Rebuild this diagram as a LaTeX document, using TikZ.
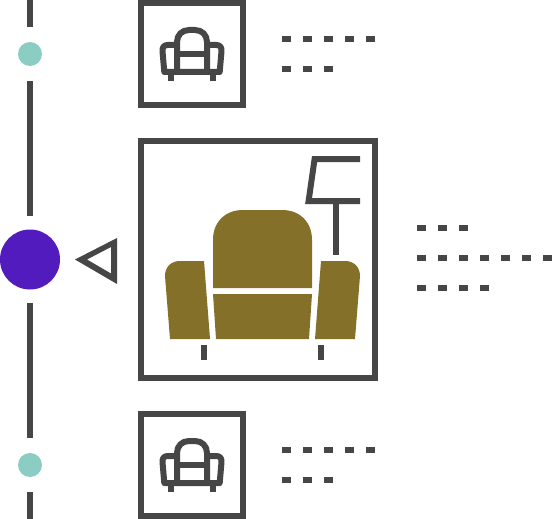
\documentclass[tikz,border=0pt]{standalone}
\definecolor{ink}{RGB}{70,70,70}
\definecolor{olive}{RGB}{133,112,41}
\definecolor{violetdot}{RGB}{82,27,190}
\definecolor{tealdot}{RGB}{139,204,195}
\tikzset{
  x=1pt,y=-1pt,
  stroke6/.style={draw=ink,line width=6pt,line join=miter},
  soft/.style={draw=ink,line width=6pt,line join=round},
  sofa/.style={fill=olive,draw=none},
  dashrow/.pic={\foreach \n in {1,...,#1}{\fill[ink] ({(\n-1)*21},-3) rectangle ++(9,6);}},
  smallsofa/.pic={
    \draw[soft] (177,72) -- (177,42) .. controls (177,35) and (182,30) .. (189,30) -- (195,30) .. controls (202,30) and (207,35) .. (207,42) -- (207,72);
    \draw[soft] (177,54) -- (207,54);
    \draw[soft] (177,45) -- (168,45) .. controls (164,45) and (162.3,47) .. (162.5,51) -- (164.3,72) -- (219.7,72) -- (221.5,51) .. controls (221.7,47) and (220,45) .. (216,45) -- (207,45);
    \fill[ink] (168,72) rectangle (174,81);
    \fill[ink] (210,72) rectangle (216,81);
  }
}
\begin{document}
\begin{tikzpicture}
\useasboundingbox (0,0) rectangle (552,519);
\fill[white] (0,0) rectangle (552,519);
% timeline
\fill[ink] (27,0) rectangle (33,27);
\fill[ink] (27,81) rectangle (33,216);
\fill[ink] (27,303) rectangle (33,438);
\fill[ink] (27,492) rectangle (33,519);
\fill[tealdot] (30,54) circle[radius=12pt];
\fill[tealdot] (30,465) circle[radius=12pt];
\fill[violetdot] (30,259.5) circle[radius=30pt];
% pointer
\fill[ink,even odd rule] (75,259.5) -- (117,238) -- (117,284) -- cycle (87,259.5) -- (111,273.5) -- (111,247) -- cycle;
% boxes
\draw[stroke6] (141,3) rectangle (243,105);
\draw[stroke6] (141,414) rectangle (243,516);
\draw[stroke6] (141,141) rectangle (375,378);
% small sofas
\pic at (0,0) {smallsofa};
\pic at (0,411) {smallsofa};
% big sofa
\fill[sofa] (213,288) -- (213,240) .. controls (213,222) and (225,210) .. (243,210) -- (282,210) .. controls (300,210) and (312,222) .. (312,240) -- (312,288) -- cycle;
\fill[sofa] (213,294) -- (312,294) -- (309,339) -- (216,339) -- cycle;
\fill[sofa] (204,261) -- (210,339) -- (170,339) -- (165,276) .. controls (165,267) and (171,261) .. (180,261) -- cycle;
\fill[sofa] (321,261) -- (315,339) -- (355,339) -- (360,276) .. controls (360,267) and (354,261) .. (345,261) -- cycle;
\fill[ink] (201,345) rectangle (207,360);
\fill[ink] (318,345) rectangle (324,360);
% lamp
\draw[stroke6] (360,159) -- (314.6,159) -- (308.6,201) -- (360,201);
\fill[ink] (333,204) rectangle (339,255);
% dash rows
\pic at (282,39) {dashrow=5};
\pic at (282,69) {dashrow=3};
\pic at (417,228) {dashrow=3};
\pic at (417,258) {dashrow=7};
\pic at (417,288) {dashrow=4};
\pic at (282,450) {dashrow=5};
\pic at (282,480) {dashrow=3};
\end{tikzpicture}
\end{document}
